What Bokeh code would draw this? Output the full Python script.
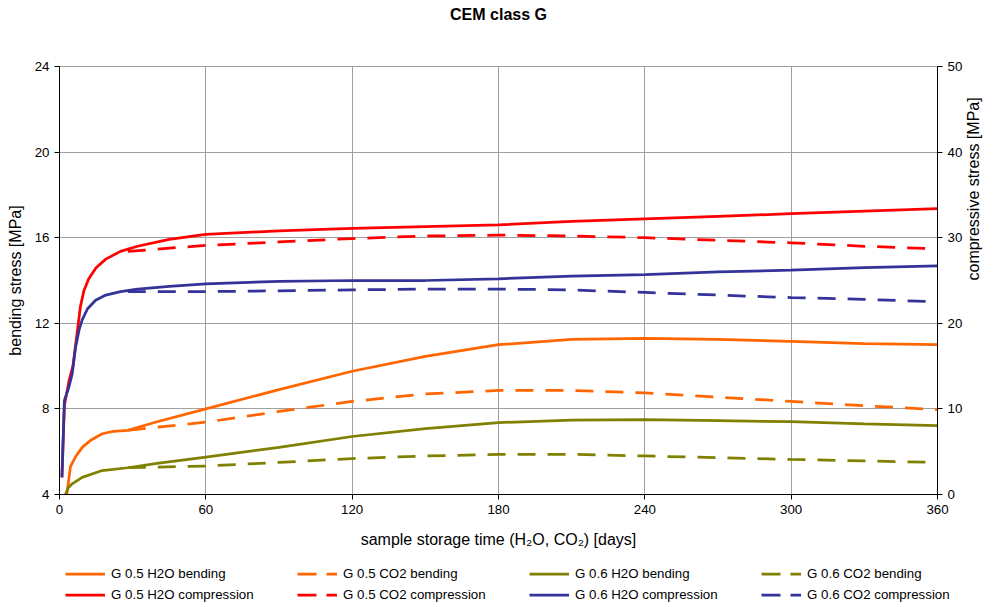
import math
from bokeh.plotting import figure
from bokeh.layouts import column
from bokeh.models import Range1d, LinearAxis, Legend, LegendItem, FixedTicker, Label
from bokeh.embed import file_html
from bokeh.resources import INLINE

# ---- data ----
# bending stress [MPa] (left axis)
days_g05_h2o_bend = [3, 4.5, 6.5, 9.3, 13, 17.5, 22, 28, 40, 60, 90, 120, 150, 180, 210, 240, 270, 300, 330, 360]
g05_h2o_bend = [4.0, 5.3, 5.75, 6.2, 6.55, 6.84, 6.95, 7.0, 7.4, 8.0, 8.9, 9.76, 10.45, 11.0, 11.25, 11.3, 11.25, 11.15, 11.05, 11.0]

days_co2 = [28, 60, 90, 120, 150, 180, 210, 240, 270, 300, 330, 360]
g05_co2_bend = [7.0, 7.38, 7.88, 8.35, 8.7, 8.86, 8.86, 8.75, 8.55, 8.35, 8.15, 7.97]

days_g06_h2o_bend = [2.5, 3.5, 5.2, 9.3, 17.5, 28, 40, 60, 90, 120, 150, 180, 210, 240, 270, 300, 330, 360]
g06_h2o_bend = [4.0, 4.3, 4.5, 4.8, 5.12, 5.25, 5.45, 5.75, 6.2, 6.71, 7.08, 7.36, 7.48, 7.5, 7.45, 7.4, 7.3, 7.22]

g06_co2_bend = [5.25, 5.33, 5.5, 5.68, 5.8, 5.87, 5.88, 5.8, 5.72, 5.64, 5.57, 5.5]

# compressive stress [MPa] (right axis)
days_g05_h2o_comp = [1, 2, 4, 5.5, 7.5, 8.6, 10, 12, 15, 19, 25, 32, 45, 60, 90, 120, 150, 180, 210, 240, 270, 300, 330, 360]
g05_h2o_comp = [2.0, 10.4, 13.4, 15.0, 19.5, 22.0, 23.8, 25.2, 26.5, 27.5, 28.4, 29.0, 29.8, 30.4, 30.8, 31.1, 31.3, 31.5, 31.9, 32.2, 32.5, 32.8, 33.1, 33.4]

g05_co2_comp = [28.4, 29.1, 29.5, 29.9, 30.2, 30.3, 30.2, 30.0, 29.7, 29.4, 29.0, 28.7]

days_g06_h2o_comp = [1, 2, 3.8, 5.2, 6.6, 8, 9.3, 11.5, 14.8, 19, 25, 32, 45, 60, 90, 120, 150, 180, 210, 240, 270, 300, 330, 360]
g06_h2o_comp = [2.0, 11.0, 12.5, 14.1, 17.2, 19.2, 20.4, 21.7, 22.7, 23.3, 23.7, 24.0, 24.3, 24.6, 24.9, 25.0, 25.0, 25.2, 25.5, 25.7, 26.0, 26.2, 26.5, 26.7]

g06_co2_comp = [23.7, 23.7, 23.8, 23.9, 24.0, 24.0, 23.9, 23.6, 23.3, 23.0, 22.8, 22.5]

x_ticks = [0, 60, 120, 180, 240, 300, 360]
left_ticks = [4, 8, 12, 16, 20, 24]
right_ticks = [0, 10, 20, 30, 40, 50]

labels = ["G 0.5 H2O bending", "G 0.5 CO2 bending", "G 0.6 H2O bending", "G 0.6 CO2 bending",
          "G 0.5 H2O compression", "G 0.5 CO2 compression", "G 0.6 H2O compression", "G 0.6 CO2 compression"]
title_text = "CEM class G"

ORANGE = "#FF6600"
RED = "#FF0000"
OLIVE = "#808000"
BLUE = "#333399"
FONT = "Liberation Sans"
LW = 2.75
DASH = "18 12"


def strip(height):
    f = figure(width=996, height=height, output_backend="svg", toolbar_location=None,
               x_range=Range1d(0, 1), y_range=Range1d(0, 1),
               x_axis_location=None, y_axis_location=None,
               min_border_left=0, min_border_right=0, min_border_top=0, min_border_bottom=0)
    f.frame_align = False
    f.grid.visible = False
    f.outline_line_color = None
    f.background_fill_color = "white"
    f.border_fill_color = "white"
    return f


# ---- title strip ----
top = strip(28)
top.add_layout(Label(x=0.5, y=0.5, text=title_text, text_align="center", text_baseline="middle",
                     text_font=FONT, text_font_size="16px", text_font_style="bold",
                     text_color="black"))

# ---- main chart ----
p = figure(width=996, height=522, output_backend="svg", toolbar_location=None,
           x_range=Range1d(0, 360), y_range=Range1d(4, 24),
           min_border_left=59, min_border_right=59, min_border_top=38, min_border_bottom=56)
p.frame_align = False
p.extra_y_ranges = {"right": Range1d(0, 50)}
p.background_fill_color = "white"
p.border_fill_color = "white"
p.outline_line_color = "#a0a0a0"


def style_axis(ax):
    ax.axis_line_color = "black"
    ax.axis_line_width = 1
    ax.major_tick_line_color = "black"
    ax.major_tick_in = 0
    ax.major_tick_out = 5
    ax.minor_tick_line_color = None
    ax.major_label_text_font = FONT
    ax.major_label_text_font_size = "13.3px"
    ax.major_label_text_color = "black"
    ax.major_label_standoff = 5
    ax.axis_label_text_font = FONT
    ax.axis_label_text_font_size = "16px"
    ax.axis_label_text_font_style = "normal"
    ax.axis_label_text_color = "black"


p.xaxis.ticker = FixedTicker(ticks=x_ticks)
p.xaxis.axis_label = "sample storage time (H\u2082O, CO\u2082) [days]"
p.yaxis.ticker = FixedTicker(ticks=left_ticks)
p.yaxis.axis_label = "bending stress [MPa]"
style_axis(p.xaxis[0])
style_axis(p.yaxis[0])
p.xaxis.axis_label_standoff = 14
p.yaxis.axis_label_standoff = 8

raxis = LinearAxis(y_range_name="right", ticker=FixedTicker(ticks=right_ticks),
                   axis_label="compressive stress [MPa]")
style_axis(raxis)
raxis.axis_label_orientation = math.pi / 2
raxis.axis_label_standoff = 8
p.add_layout(raxis, "right")

p.xgrid.ticker = FixedTicker(ticks=x_ticks)
p.ygrid.ticker = FixedTicker(ticks=left_ticks)
for g in (p.xgrid[0], p.ygrid[0]):
    g.grid_line_color = "#a0a0a0"
    g.grid_line_width = 1

p.line(days_g05_h2o_bend, g05_h2o_bend, color=ORANGE, line_width=LW)
p.line(days_co2, g05_co2_bend, color=ORANGE, line_width=LW, line_dash=DASH)
p.line(days_g06_h2o_bend, g06_h2o_bend, color=OLIVE, line_width=LW)
p.line(days_co2, g06_co2_bend, color=OLIVE, line_width=LW, line_dash=DASH)
p.line(days_g05_h2o_comp, g05_h2o_comp, color=RED, line_width=LW, y_range_name="right")
p.line(days_co2, g05_co2_comp, color=RED, line_width=LW, line_dash=DASH, y_range_name="right")
p.line(days_g06_h2o_comp, g06_h2o_comp, color=BLUE, line_width=LW, y_range_name="right")
p.line(days_co2, g06_co2_comp, color=BLUE, line_width=LW, line_dash=DASH, y_range_name="right")

# ---- legend strip below the chart ----
leg = strip(57)
styles = [(ORANGE, None), (ORANGE, "19 10"), (OLIVE, None), (OLIVE, "19 10"),
          (RED, None), (RED, "19 10"), (BLUE, None), (BLUE, "19 10")]
items = []
for lab, (col, dash) in zip(labels, styles):
    kw = dict(color=col, line_width=LW)
    if dash:
        kw["line_dash"] = dash
    r = leg.line(x=[float("nan")], y=[float("nan")], **kw)
    items.append(LegendItem(label=lab, renderers=[r]))

legend = Legend(items=items, ncols=4, orientation="horizontal",
                glyph_width=40, glyph_height=21, label_standoff=6, label_width=186,
                label_height=21, spacing=0, padding=0, margin=0,
                border_line_color=None, background_fill_alpha=0,
                label_text_font=FONT, label_text_font_size="13.3px", label_text_color="black",
                location=(65, 2))
leg.add_layout(legend, "center")

layout = column(top, p, leg, spacing=0)
open("out.html", "w").write(file_html(layout, INLINE))
